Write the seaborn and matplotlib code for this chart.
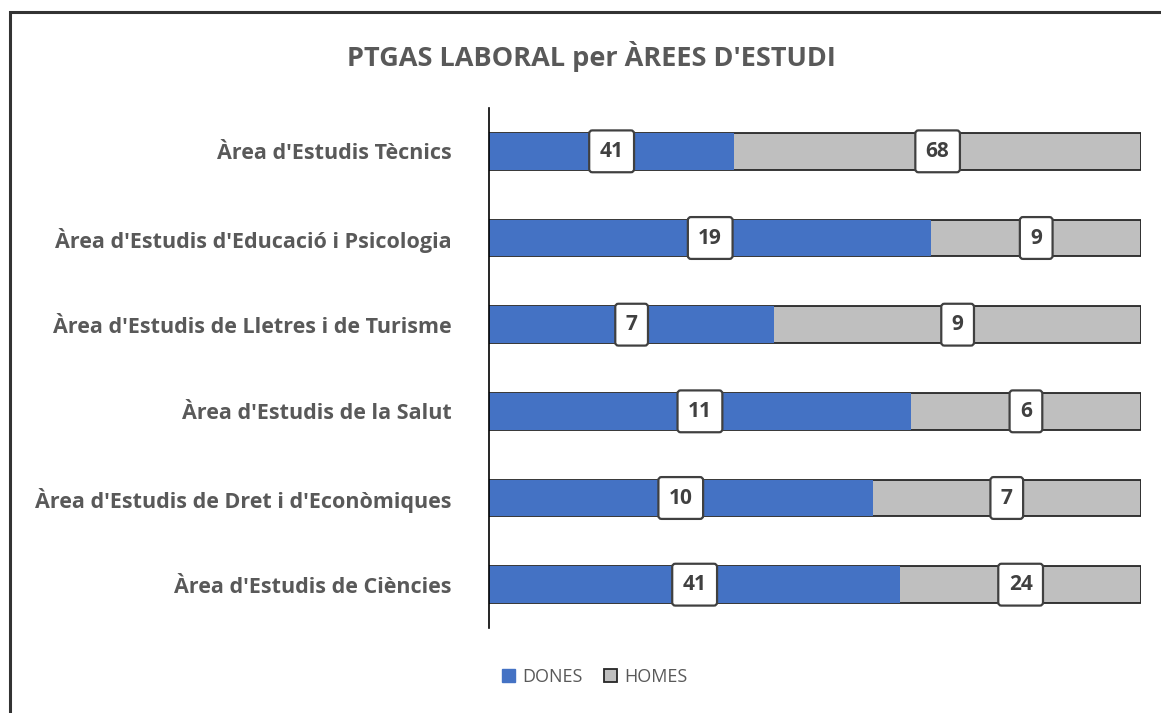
import numpy as np
import pandas as pd
import matplotlib.pyplot as plt
import seaborn as sns
from matplotlib.patches import Patch, Rectangle

# data
areas = ["Àrea d'Estudis Tècnics",
         "Àrea d'Estudis d'Educació i Psicologia",
         "Àrea d'Estudis de Lletres i de Turisme",
         "Àrea d'Estudis de la Salut",
         "Àrea d'Estudis de Dret i d'Econòmiques",
         "Àrea d'Estudis de Ciències"]
dones = [41, 19, 7, 11, 10, 41]
homes = [68, 9, 9, 6, 7, 24]

sns.set_style("white")
plt.rcParams['font.family'] = ['Open Sans', 'DejaVu Sans']

df = pd.DataFrame({"area": areas, "DONES": dones, "HOMES": homes})
df["total"] = df["DONES"] + df["HOMES"]
df["p_dones"] = df["DONES"] / df["total"]
df["p_all"] = 1.0

fig = plt.figure(figsize=(11.61, 7.13), dpi=100)
ax = fig.add_axes([489/1161, 1-628/713, (1141-489)/1161, (628-108)/713])

blue = "#4472C4"
grey = "#BFBFBF"
txt = "#595959"

sns.barplot(data=df, x="p_all", y="area", color=grey, edgecolor="#262626",
            linewidth=1.3, width=0.42, saturation=1, ax=ax)
sns.barplot(data=df, x="p_dones", y="area", color=blue, linewidth=0,
            width=0.42, saturation=1, ax=ax)

ax.set_xlim(0, 1)
ax.set_ylim(5.5, -0.5)
ax.set_xlabel("")
ax.set_ylabel("")
ax.set_xticks([])
for s in ["top", "right", "bottom"]:
    ax.spines[s].set_visible(False)
ax.spines["left"].set_color("black")
ax.spines["left"].set_linewidth(1.2)
ax.tick_params(axis="y", length=0, pad=27)
for lab in ax.get_yticklabels():
    lab.set_fontsize(15.5)
    lab.set_fontweight("bold")
    lab.set_color(txt)

box = dict(boxstyle="round,pad=0.5,rounding_size=0.15", fc="white", ec="#404040", lw=1.6)
for i, r in df.iterrows():
    pd_ = r["p_dones"]
    ax.text(pd_ / 2, i, str(r["DONES"]), ha="center", va="center", fontsize=15,
            fontweight="bold", color="#404040", bbox=box)
    ax.text(pd_ + (1 - pd_) / 2, i, str(r["HOMES"]), ha="center", va="center",
            fontsize=15, fontweight="bold", color="#404040", bbox=box)

fig.text(591/1161, 1-57/713, "PTGAS LABORAL per ÀREES D'ESTUDI", ha="center",
         va="center", fontsize=19.5, fontweight="bold", color=txt)

handles = [Patch(facecolor=blue, edgecolor=blue, label="DONES"),
           Patch(facecolor=grey, edgecolor="#262626", linewidth=1.3, label="HOMES")]
fig.legend(handles=handles, loc="center", bbox_to_anchor=(595/1161, 1-677/713),
           ncol=2, frameon=False, fontsize=13, handlelength=0.7, handleheight=0.7,
           handletextpad=0.4, columnspacing=1.2, labelcolor=txt)

# outer frame
fig.patches.append(Rectangle((10/1161, -0.1), 1.2, 1.1 - 12/713,
                             transform=fig.transFigure, fill=False,
                             ec="#333333", lw=2.2))

fig.savefig("out.png", dpi=100)
